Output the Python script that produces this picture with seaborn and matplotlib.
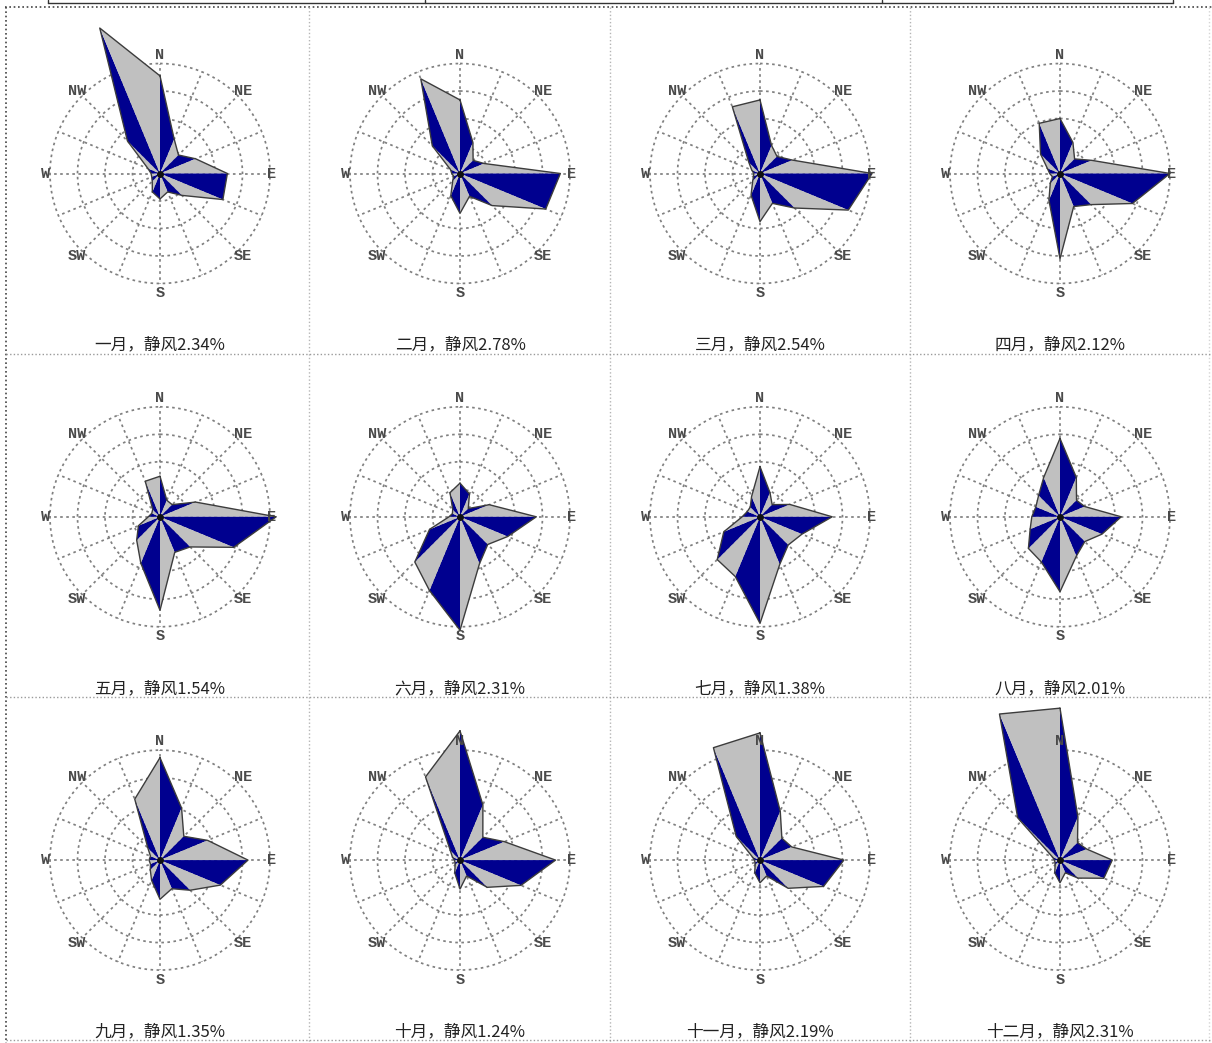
import numpy as np
import matplotlib
matplotlib.use('Agg')
import matplotlib.pyplot as plt
from matplotlib.lines import Line2D
import seaborn as sns

# wind frequency (%) per direction, order N, NNE, NE, ... NNW
dirs = ['N', 'NNE', 'NE', 'ENE', 'E', 'ESE', 'SE', 'SSE',
        'S', 'SSW', 'SW', 'WSW', 'W', 'WNW', 'NW', 'NNW']
jan = [14.2, 5.4, 3.8, 5.6, 9.8, 9.9, 4.5, 2.9, 3.7, 2.9, 1.6, 1.3, 1.3, 1.9, 6.7, 22.9]
feb = [10.7, 4.9, 2.7, 3.8, 14.6, 13.5, 6.6, 3.6, 5.8, 3.5, 1.5, 1.0, 1.2, 1.5, 5.7, 14.9]
mar = [10.7, 4.4, 3.5, 5.1, 16.3, 13.9, 7.1, 4.7, 7.0, 3.4, 1.5, 1.0, 0.9, 1.3, 2.3, 10.5]
apr = [8.0, 4.9, 3.0, 5.0, 16.0, 11.4, 6.4, 5.2, 12.4, 4.2, 2.0, 1.2, 1.5, 2.0, 4.0, 7.9]
may = [5.9, 2.6, 2.5, 5.6, 16.9, 11.6, 6.2, 5.6, 13.6, 7.3, 4.8, 3.4, 1.7, 1.3, 1.5, 5.6]
jun = [4.9, 3.6, 1.7, 4.6, 11.1, 7.5, 5.7, 7.4, 16.5, 11.6, 9.3, 4.8, 1.6, 1.2, 1.5, 3.8]
jul = [7.3, 3.8, 2.5, 4.7, 10.5, 6.6, 5.8, 7.5, 15.5, 9.4, 8.8, 5.7, 2.6, 2.0, 2.0, 3.2]
aug = [11.4, 6.2, 3.4, 3.9, 8.9, 6.6, 5.1, 6.2, 10.9, 7.1, 6.5, 4.7, 4.1, 3.8, 4.4, 6.2]
sep = [14.9, 8.2, 4.9, 7.5, 12.8, 9.5, 6.2, 4.5, 5.7, 3.2, 2.0, 1.5, 1.6, 1.5, 2.5, 9.6]
octo = [18.8, 8.7, 4.7, 7.0, 13.9, 9.6, 5.6, 2.5, 4.2, 2.0, 1.0, 0.8, 0.8, 1.2, 2.0, 13.1]
nov = [18.5, 7.7, 4.5, 5.0, 12.2, 10.0, 5.8, 2.5, 3.3, 2.0, 1.0, 0.8, 0.8, 1.2, 4.9, 17.7]
dec = [22.1, 6.8, 3.6, 4.2, 7.6, 6.9, 3.7, 2.0, 3.3, 2.0, 1.0, 0.8, 0.8, 1.2, 8.7, 23.0]
months = [jan, feb, mar, apr, may, jun, jul, aug, sep, octo, nov, dec]

month_names = ['一月', '二月', '三月', '四月', '五月', '六月',
               '七月', '八月', '九月', '十月', '十一月', '十二月']
calm = ['2.34', '2.78', '2.54', '2.12', '1.54', '2.31',
        '1.38', '2.01', '1.35', '1.24', '2.19', '2.31']

rings = [4, 8, 12, 16]
compass = ['N', 'NE', 'E', 'SE', 'S', 'SW', 'W', 'NW']

sns.set_theme(style='white')
plt.rcParams['font.family'] = ['Noto Sans CJK SC', 'DejaVu Sans']

W, H = 1212, 1043
fig = plt.figure(figsize=(W / 100, H / 100), dpi=100)


def px_line(xs, ys, **kw):
    fig.add_artist(Line2D([x / W for x in xs], [1 - y / H for y in ys],
                          transform=fig.transFigure, **kw))


# page frame (table borders)
dot = (0, (1, 1.6))
px_line([48, 48], [0, 3], color='#333', lw=1)
px_line([48, 1173], [3, 3], color='#333', lw=1)
for x in [425, 882, 1173]:
    px_line([x, x], [0, 3], color='#333', lw=1)
px_line([5, 1212], [7, 7], color='#444', lw=1.2, ls=dot)
px_line([6, 6], [7, 1043], color='#444', lw=1.2, ls=dot)
for x in [309, 610, 910]:
    px_line([x, x], [7, 1043], color='#b5b5b5', lw=1, ls=dot)
px_line([1209, 1209], [7, 1043], color='#d5d5d5', lw=1, ls=dot)
for y in [354, 697, 1040]:
    px_line([6, 1212], [y, y], color='#9a9a9a', lw=1, ls=dot)

theta = np.deg2rad(np.arange(16) * 22.5)
S = 165  # half size of each polar axes in px (r=24 -> 165 px, r=16 -> 110 px)
lab_r = [17.3, 17.0, 16.3, 17.0, 17.4, 17.0, 16.6, 17.0]
grid_kw = dict(color='#808080', lw=1.25, ls=(0, (1.5, 2.0)), zorder=1)

for k, vals in enumerate(months):
    row, col = divmod(k, 4)
    cx = 160 + 300 * col
    cy = 173.5 + 343.3 * row
    ax = fig.add_axes([(cx - S) / W, 1 - (cy + S) / H, 2 * S / W, 2 * S / H],
                      projection='polar')
    ax.set_theta_zero_location('N')
    ax.set_theta_direction(-1)
    ax.set_ylim(0, 24)
    ax.set_axis_off()

    # dotted grid
    t = np.linspace(0, 2 * np.pi, 241)
    for r in rings:
        ax.plot(t, np.full_like(t, r), **grid_kw)
    for th in theta:
        ax.plot([th, th], [0, 16], **grid_kw)

    # alternating blue / gray sectors
    v = np.asarray(vals)
    for i in range(16):
        j = (i + 1) % 16
        ax.fill([0, theta[i], theta[j]], [0, v[i], v[j]],
                color='#00008f' if i % 2 == 0 else '#c0c0c0', lw=0, zorder=3)
    sns.lineplot(x=np.append(theta, 2 * np.pi), y=np.append(v, v[0]),
                 sort=False, estimator=None, color='#3c3c3c', lw=1.0,
                 ax=ax, zorder=4)
    ax.plot([0], [0], 'o', ms=4, color='#111', zorder=5)

    for lab, th, r in zip(compass, theta[::2], lab_r):
        ax.text(th, r, lab, ha='center', va='center', fontsize=11,
                family='Liberation Mono', fontweight='bold', color='#4a4a4a')

    ty = 345 + 343.5 * row
    fig.text(cx / W, 1 - ty / H, f'{month_names[k]}，静风{calm[k]}%',
             ha='center', va='center', fontsize=12, color='#222')

fig.savefig('out.png', dpi=100)
